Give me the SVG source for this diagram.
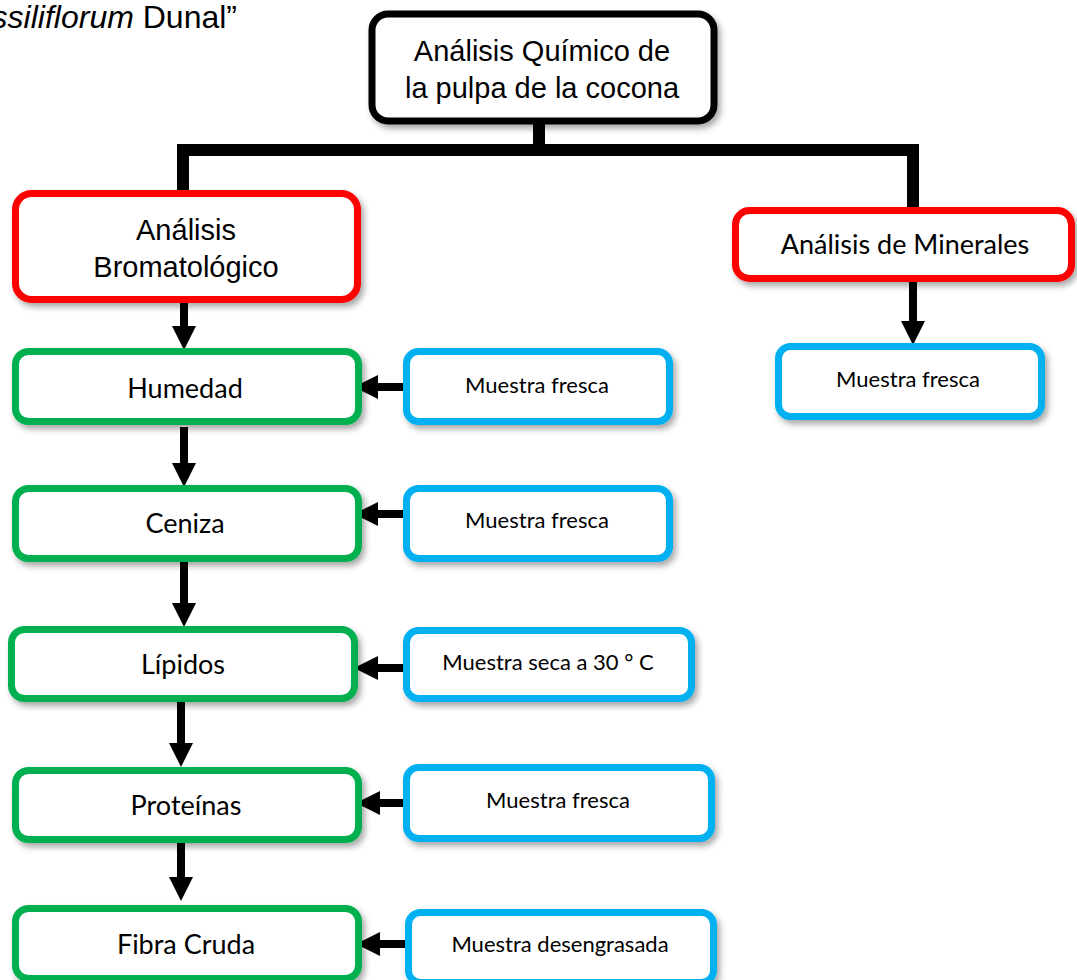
<svg xmlns="http://www.w3.org/2000/svg" width="1077" height="980" viewBox="0 0 1077 980">
<style>
.box{fill:#fff;stroke-width:7;filter:url(#sh)}
.red{stroke:#ff0000}
.grn{stroke:#00b050}
.blu{stroke:#00b0f0}
.arial{font-family:"Liberation Sans",Arial,sans-serif;font-size:29px;fill:#000;text-anchor:middle}
.cal{font-family:Lato,"Open Sans",sans-serif;fill:#000;text-anchor:middle}
.big{font-size:27px}
.sm{font-size:22px}
.conn{fill:none;stroke:#000;stroke-width:12}
.arr{stroke:#000;stroke-width:8;marker-end:url(#ah)}
</style>
<defs>
<filter id="sh" x="-10%" y="-20%" width="130%" height="150%">
<feDropShadow dx="3" dy="4" stdDeviation="3" flood-color="#000" flood-opacity="0.35"/>
</filter>
<marker id="ah" markerUnits="userSpaceOnUse" markerWidth="24" markerHeight="24" viewBox="0 0 24 24" refX="1" refY="12" orient="auto">
<path d="M0,0 L24,12 L0,24 z" fill="#000"/>
</marker>
</defs>
<rect width="1077" height="980" fill="#fff"/>
<text x="237" y="28" font-family="Liberation Sans,Arial,sans-serif" font-size="32" text-anchor="end" fill="#000"><tspan font-style="italic">ssiliflorum</tspan> Dunal”</text>

<g id="connectors">
<path class="conn" d="M183,205 V150 H913 V208"/>
<path class="conn" d="M539,122 V150"/>
<line class="arr" x1="184" y1="303" x2="184" y2="327"/>
<line class="arr" x1="184" y1="427" x2="184" y2="464"/>
<line class="arr" x1="184" y1="562" x2="184" y2="604"/>
<line class="arr" x1="181" y1="702" x2="181" y2="744"/>
<line class="arr" x1="181" y1="843" x2="181" y2="878"/>
<line class="arr" x1="913" y1="282" x2="913" y2="322"/>
<line class="arr" x1="406" y1="387" x2="377" y2="387"/>
<line class="arr" x1="406" y1="514" x2="377" y2="514"/>
<line class="arr" x1="406" y1="668" x2="377" y2="668"/>
<line class="arr" x1="409" y1="803" x2="379" y2="803"/>
<line class="arr" x1="409" y1="944" x2="379" y2="944"/>
</g>

<g id="n-quimico">
<rect class="box" x="372" y="14" width="342" height="107" rx="16" stroke="#000" stroke-width="8"/>
<text class="arial" x="542" y="61">Análisis Químico de</text>
<text class="arial" x="542" y="98">la pulpa de la cocona</text>
</g>
<g id="n-bromato">
<rect class="box red" x="15.5" y="193.5" width="342" height="106" rx="16"/>
<text class="arial" x="186" y="240">Análisis</text>
<text class="arial" x="186" y="277">Bromatológico</text>
</g>
<g id="n-minerales">
<rect class="box red" x="735.5" y="210.5" width="336" height="68" rx="14"/>
<text class="cal big" x="905" y="254">Análisis de Minerales</text>
</g>
<g id="n-min-muestra">
<rect class="box blu" x="778.5" y="346.5" width="263" height="70" rx="12"/>
<text class="cal sm" x="908" y="387">Muestra fresca</text>
</g>

<g id="n-humedad">
<rect class="box grn" x="15.5" y="351.5" width="343" height="70" rx="13"/>
<text class="cal big" x="185" y="398">Humedad</text>
</g>
<g id="n-ceniza">
<rect class="box grn" x="15.5" y="488.5" width="343" height="70" rx="13"/>
<text class="cal big" x="185" y="533">Ceniza</text>
</g>
<g id="n-lipidos">
<rect class="box grn" x="11.5" y="629.5" width="343" height="69" rx="13"/>
<text class="cal big" x="183" y="674">Lípidos</text>
</g>
<g id="n-proteinas">
<rect class="box grn" x="15.5" y="770.5" width="343" height="69" rx="13"/>
<text class="cal big" x="186" y="815">Proteínas</text>
</g>
<g id="n-fibra">
<rect class="box grn" x="15.5" y="908.5" width="343" height="70" rx="13"/>
<text class="cal big" x="186" y="954">Fibra Cruda</text>
</g>

<g id="n-m1">
<rect class="box blu" x="406.5" y="351.5" width="263" height="70" rx="12"/>
<text class="cal sm" x="537" y="393">Muestra fresca</text>
</g>
<g id="n-m2">
<rect class="box blu" x="406.5" y="488.5" width="263" height="70" rx="12"/>
<text class="cal sm" x="537" y="528">Muestra fresca</text>
</g>
<g id="n-m3">
<rect class="box blu" x="406.5" y="630.5" width="285" height="68" rx="12"/>
<text class="cal sm" x="548" y="670">Muestra seca a 30 ° C</text>
</g>
<g id="n-m4">
<rect class="box blu" x="406.5" y="767.5" width="305" height="71" rx="12"/>
<text class="cal sm" x="558" y="808">Muestra fresca</text>
</g>
<g id="n-m5">
<rect class="box blu" x="408.5" y="912.5" width="305" height="70" rx="12"/>
<text class="cal sm" x="560" y="952">Muestra desengrasada</text>
</g>
</svg>
